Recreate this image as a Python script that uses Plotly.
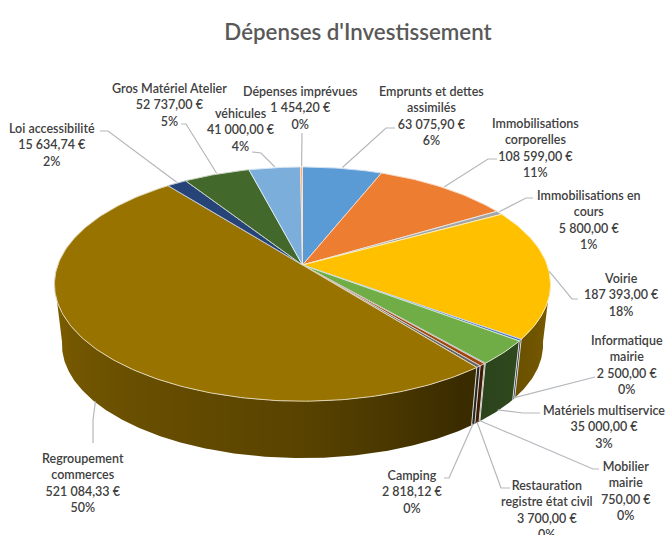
import numpy as np
import plotly.graph_objects as go

categories = ["Emprunts et dettes<br>assimilés", "Immobilisations<br>corporelles", "Immobilisations en<br>cours", "Voirie",
              "Informatique<br>mairie", "Matériels multiservice", "Mobilier<br>mairie", "Restauration<br>registre état civil",
              "Camping", "Regroupement<br>commerces", "Loi accessibilité", "Gros Matériel Atelier", "véhicules", "Dépenses imprévues"]
values = [63075.90, 108599.00, 5800.00, 187393.00, 2500.00, 35000.00, 750.00, 3700.00,
          2818.12, 521084.33, 15634.74, 52737.00, 41000.00, 1454.20]
percents = [6, 11, 1, 18, 0, 3, 0, 0, 0, 50, 2, 5, 4, 0]
colors = ["#5B9BD5", "#ED7D31", "#A5A5A5", "#FFC000", "#4472C4", "#70AD47", "#255E91", "#9E480E",
          "#636363", "#997300", "#264478", "#43682B", "#7CAEDC", "#F6A05A"]
label_xy = [(431, 116), (535, 148), (589, 220), (621, 295), (627, 365), (604, 427), (626, 491), (547, 510),
            (412, 492), (83, 483), (52, 145), (169, 105), (241, 130), (300, 108)]
leaders = [[(395, 128), (386, 128)], [(497, 159), (488, 159)], [(533, 198), (526, 198)], [(578, 299), (572, 299)],
           [(595, 377)], [(540, 413), (523, 413)], [(599, 469), (593, 469)], [(510, 488), (501, 488)],
           [(444, 478), (449, 478)], [(93, 443), (93, 420)], [(100, 131), (108, 131)], [(181, 124), (186, 124)],
           [(252, 152), (261, 153)], [(302, 133)]]
leader_on_side = [False, False, False, False, True, True, True, True, True, True, False, False, False, False]

PX, PY, A, B, K = 302.5, 265.0, 244.7, 114.0, 0.163
DEPTH, BOTTOM_SCALE = 61.0, 0.97
SIDE_MIN, SIDE_MAX = 98.0, 262.0
SHADE_T = [98, 145, 180, 230, 262]
SHADE_F = [0.48, 0.38, 0.58, 0.72, 0.82]


def project(theta, bottom=False):
    t = np.radians(theta)
    u, v = np.sin(t), np.cos(t)
    s = BOTTOM_SCALE if bottom else 1.0
    d = DEPTH if bottom else 0.0
    return PX + s * A * u / (1 + K * v), PY + d - s * B * v / (1 + K * v)


def rgb(hexcol):
    return np.array([int(hexcol[i:i + 2], 16) for i in (1, 3, 5)], dtype=float)


def css(c):
    return "rgb(%d,%d,%d)" % tuple(np.clip(c, 0, 255).round())


edges = np.concatenate([[0.0], np.cumsum(values)]) / np.sum(values) * 360.0
fig = go.Figure()

# Side wall of each slice, with a horizontal gradient following the light
for i, col in enumerate(colors):
    a, b = max(edges[i], SIDE_MIN), min(edges[i + 1], SIDE_MAX)
    if b <= a:
        continue
    ts = np.linspace(a, b, max(2, int(b - a) * 2 + 2))
    xt, yt = project(ts)
    xb, yb = project(ts[::-1], True)
    xs = np.r_[xt, xb, xt[0]]
    ys = np.r_[yt, yb, yt[0]]
    lo, hi = xs.min(), xs.max()
    mids = (xt + xb[::-1]) / 2
    order = np.argsort(mids)
    pos = np.clip((mids[order] - lo) / (hi - lo), 0, 1)
    shade = np.interp(ts[order], SHADE_T, SHADE_F)
    stops = [[0.0, css(rgb(col) * shade[0])]]
    stops += [[float(p), css(rgb(col) * f)] for p, f in zip(pos, shade) if 0 < p < 1]
    stops += [[1.0, css(rgb(col) * shade[-1])]]
    fig.add_trace(go.Scatter(x=list(xs), y=list(ys), mode="lines", fill="toself",
                             fillgradient=dict(type="horizontal", colorscale=stops, start=float(lo), stop=float(hi)),
                             line=dict(width=0), hoverinfo="skip", showlegend=False))

# Pale seams between slices on the side wall
for t in edges[1:-1]:
    if SIDE_MIN < t < SIDE_MAX:
        xt, yt = project(t)
        xb, yb = project(t, True)
        fig.add_trace(go.Scatter(x=[xt, xb], y=[yt, yb], mode="lines", line=dict(color="#DADAD2", width=1),
                                 hoverinfo="skip", showlegend=False))

# Top faces
for i, col in enumerate(colors):
    ts = np.linspace(edges[i], edges[i + 1], max(2, int(edges[i + 1] - edges[i]) + 2))
    xs, ys = project(ts)
    edge = css(rgb(col) * 0.3 + np.array([255, 255, 255]) * 0.7)
    fig.add_trace(go.Scatter(x=list(np.r_[PX, xs, PX]), y=list(np.r_[PY, ys, PY]), mode="lines", fill="toself",
                             fillcolor=col, line=dict(color=edge, width=1), hoverinfo="skip", showlegend=False))

# Leader lines: from the label elbow to the middle of the slice (bottom rim for front slices)
for i, pts in enumerate(leaders):
    mid = (edges[i] + edges[i + 1]) / 2
    x0, y0 = project(mid, leader_on_side[i])
    fig.add_trace(go.Scatter(x=[p[0] for p in pts] + [x0], y=[p[1] for p in pts] + [y0 - 1], mode="lines",
                             line=dict(color="#B4B8BC", width=1.2), hoverinfo="skip", showlegend=False))

# Labels
for i, name in enumerate(categories):
    money = f"{values[i]:,.2f}".replace(",", " ").replace(".", ",")
    fig.add_annotation(x=label_xy[i][0], y=label_xy[i][1], xref="x", yref="y", showarrow=False,
                       text=f"{name}<br>{money} €<br>{percents[i]}%", align="center", xanchor="center", yanchor="middle",
                       font=dict(family="Lato", size=12.5, color="#404040", weight=600))

fig.update_layout(
    width=669, height=535, margin=dict(l=0, r=0, t=0, b=0), autosize=False,
    paper_bgcolor="white", plot_bgcolor="white", showlegend=False,
    title=dict(text="Dépenses d'Investissement", x=358 / 669, y=1 - 32 / 535, xanchor="center", yanchor="middle",
               font=dict(family="Lato", size=22.3, color="#595959", weight=600)),
    xaxis=dict(range=[0, 669], visible=False, fixedrange=True),
    yaxis=dict(range=[535, 0], visible=False, fixedrange=True),
)
fig.write_html("out.html", config={"displayModeBar": False},
               post_script="document.body.style.margin='0';document.documentElement.style.overflow='hidden';")
